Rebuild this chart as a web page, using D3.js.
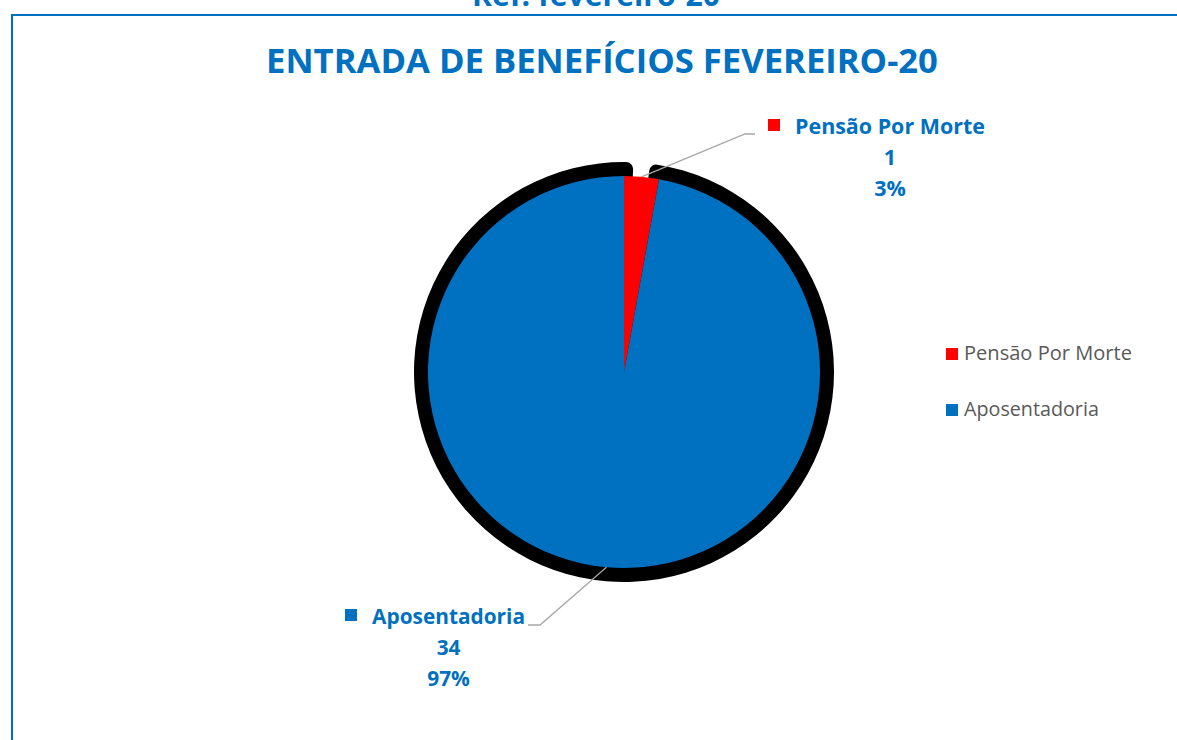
<!DOCTYPE html>
<html>
<head>
<meta charset="utf-8">
<script src="https://cdn.jsdelivr.net/npm/d3@7"></script>
<style>
  body { margin: 0; background: #fff; }
  svg { display: block; }
  text { font-family: "Open Sans", sans-serif; }
</style>
</head>
<body>
<svg width="1177" height="740"></svg>
<script>
// chart data
var categories = ["Pensão Por Morte", "Aposentadoria"];
var values = [1, 34];
var percents = ["3%", "97%"];
var colors = ["#FF0000", "#0070C0"];

var titleText = "ENTRADA DE BENEFÍCIOS FEVEREIRO-20";
var refText = "Ref: fevereiro-20";

var svg = d3.select("svg");
var blue = "#0070C0";

// scale font-size so the text fills a given width
function fitWidth(sel, target) {
    var len = sel.node().getComputedTextLength();
    var fs = parseFloat(sel.style("font-size"));
    sel.style("font-size", (fs * target / len) + "px");
}

// cut-off heading above the frame
var ref = svg.append("text")
    .attr("x", 596).attr("y", 6)
    .attr("text-anchor", "middle")
    .style("font-weight", "bold").style("font-size", "28px")
    .style("fill", blue)
    .text(refText);
fitWidth(ref, 248);

// frame
svg.append("rect")
    .attr("x", 12).attr("y", 15)
    .attr("width", 1200).attr("height", 760)
    .attr("fill", "none")
    .attr("stroke", blue)
    .attr("stroke-width", 2);

var title = svg.append("text")
    .attr("x", 602).attr("y", 73)
    .attr("text-anchor", "middle")
    .style("font-weight", "bold").style("font-size", "32px")
    .style("fill", blue)
    .text(titleText);
fitWidth(title, 672);

// pie
var cx = 624, cy = 372, r = 196;
var pie = d3.pie().sort(null).value(function(d) { return d; });
var arcs = pie(values);

var g = svg.append("g").attr("transform", "translate(" + cx + "," + cy + ")");

// black shadow rim, leaves a notch above the small slice
var shadowArc = d3.arc().innerRadius(0).outerRadius(r + 14).cornerRadius(7);
g.append("path")
    .attr("d", shadowArc({startAngle: arcs[1].startAngle - 0.055, endAngle: arcs[1].endAngle + 0.045}))
    .attr("fill", "#000");

var arc = d3.arc().innerRadius(0).outerRadius(r);
g.selectAll(".slice")
    .data(arcs)
    .enter().append("path")
    .attr("class", "slice")
    .attr("d", arc)
    .attr("fill", function(d, i) { return colors[i]; });

// data labels with leader lines
var labelLayout = [
    {elbow: [745, 134], end: 755, textX: 795, keyX: 768, side: "right", base: 134},
    {elbow: [540, 625], end: 528, textX: 525, keyX: 345, side: "left", base: 624}
];

arcs.forEach(function(d, i) {
    var L = labelLayout[i];
    var mid = (d.startAngle + d.endAngle) / 2;
    var px = cx + r * Math.sin(mid), py = cy - r * Math.cos(mid);
    svg.append("polyline")
        .attr("points", [[px, py], L.elbow, [L.end, L.elbow[1]]].map(function(p) { return p.join(","); }).join(" "))
        .attr("fill", "none")
        .attr("stroke", "#A6A6A6")
        .attr("stroke-width", 1.3);

    var name = svg.append("text")
        .attr("y", L.base)
        .style("font-weight", "bold").style("font-size", "20px")
        .style("fill", blue)
        .text(categories[i]);
    fitWidth(name, i === 0 ? 190 : 153);
    var w = name.node().getComputedTextLength();
    var tx = L.side === "right" ? L.textX : L.textX - w;
    name.attr("x", tx);
    var centre = tx + w / 2;

    svg.append("rect")
        .attr("x", L.keyX).attr("y", L.base - 15)
        .attr("width", 12).attr("height", 12)
        .attr("fill", colors[i]);

    var fs = name.style("font-size");
    [String(values[i]), percents[i]].forEach(function(t, k) {
        svg.append("text")
            .attr("x", centre).attr("y", L.base + 31 * (k + 1))
            .attr("text-anchor", "middle")
            .style("font-weight", "bold").style("font-size", fs)
            .style("fill", blue)
            .text(t);
    });
});

// legend
var legend = svg.append("g").attr("transform", "translate(946,348)");
categories.forEach(function(c, i) {
    var row = legend.append("g").attr("transform", "translate(0," + (i * 56) + ")");
    row.append("rect").attr("width", 12).attr("height", 12).attr("fill", colors[i]);
    var t = row.append("text")
        .attr("x", 18).attr("y", 12)
        .style("font-size", "18px")
        .style("fill", "#595959")
        .text(c);
    fitWidth(t, i === 0 ? 168 : 135);
});
</script>
</body>
</html>
